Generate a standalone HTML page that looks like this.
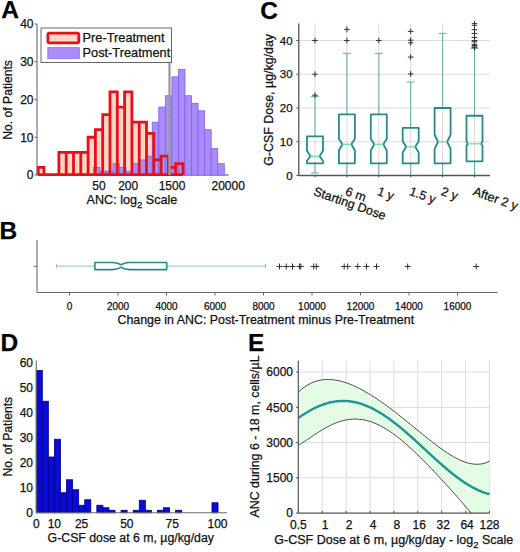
<!DOCTYPE html>
<html><head><meta charset="utf-8"><style>
html,body{margin:0;padding:0;background:#fff;}
svg{display:block;font-family:"Liberation Sans", sans-serif;}
text{stroke:#111;stroke-width:0.25px;}
</style></head><body>
<svg width="520" height="552" viewBox="0 0 520 552">
<rect width="520" height="552" fill="#fff"/>
<line x1="37.00" y1="175.00" x2="228.50" y2="175.00" stroke="#444" stroke-width="1.1" />
<rect x="38.20" y="167.45" width="5.80" height="7.55" fill="#fdd8c8" stroke="none" stroke-width="1" />
<rect x="58.90" y="152.35" width="7.30" height="22.65" fill="#fdd8c8" stroke="none" stroke-width="1" />
<rect x="66.20" y="152.35" width="7.30" height="22.65" fill="#fdd8c8" stroke="none" stroke-width="1" />
<rect x="73.50" y="152.35" width="7.30" height="22.65" fill="#fdd8c8" stroke="none" stroke-width="1" />
<rect x="80.80" y="152.35" width="7.30" height="22.65" fill="#fdd8c8" stroke="none" stroke-width="1" />
<rect x="88.10" y="137.25" width="7.30" height="37.75" fill="#fdd8c8" stroke="none" stroke-width="1" />
<rect x="95.40" y="129.70" width="7.30" height="45.30" fill="#fdd8c8" stroke="none" stroke-width="1" />
<rect x="102.70" y="114.60" width="7.30" height="60.40" fill="#fdd8c8" stroke="none" stroke-width="1" />
<rect x="110.00" y="91.95" width="7.30" height="83.05" fill="#fdd8c8" stroke="none" stroke-width="1" />
<rect x="117.30" y="107.05" width="7.30" height="67.95" fill="#fdd8c8" stroke="none" stroke-width="1" />
<rect x="124.60" y="91.95" width="7.30" height="83.05" fill="#fdd8c8" stroke="none" stroke-width="1" />
<rect x="131.90" y="122.15" width="7.30" height="52.85" fill="#fdd8c8" stroke="none" stroke-width="1" />
<rect x="139.20" y="122.15" width="7.30" height="52.85" fill="#fdd8c8" stroke="none" stroke-width="1" />
<rect x="146.50" y="133.47" width="7.30" height="41.53" fill="#fdd8c8" stroke="none" stroke-width="1" />
<rect x="153.80" y="159.90" width="7.30" height="15.10" fill="#fdd8c8" stroke="none" stroke-width="1" />
<rect x="161.10" y="156.12" width="7.30" height="18.88" fill="#fdd8c8" stroke="none" stroke-width="1" />
<rect x="168.40" y="167.45" width="7.30" height="7.55" fill="#fdd8c8" stroke="none" stroke-width="1" />
<rect x="175.70" y="163.68" width="7.30" height="11.32" fill="#fdd8c8" stroke="none" stroke-width="1" />
<rect x="93.30" y="167.45" width="6.55" height="7.55" fill="#a98cfa" stroke="#7f62ee" stroke-width="0.8" />
<rect x="99.85" y="171.22" width="6.55" height="3.78" fill="#a98cfa" stroke="#7f62ee" stroke-width="0.8" />
<rect x="106.40" y="171.22" width="6.55" height="3.78" fill="#a98cfa" stroke="#7f62ee" stroke-width="0.8" />
<rect x="112.95" y="163.68" width="6.55" height="11.32" fill="#a98cfa" stroke="#7f62ee" stroke-width="0.8" />
<rect x="119.50" y="167.45" width="6.55" height="7.55" fill="#a98cfa" stroke="#7f62ee" stroke-width="0.8" />
<rect x="126.05" y="171.22" width="6.55" height="3.78" fill="#a98cfa" stroke="#7f62ee" stroke-width="0.8" />
<rect x="132.60" y="163.68" width="6.55" height="11.32" fill="#a98cfa" stroke="#7f62ee" stroke-width="0.8" />
<rect x="139.15" y="159.90" width="6.55" height="15.10" fill="#a98cfa" stroke="#7f62ee" stroke-width="0.8" />
<rect x="145.70" y="156.12" width="6.55" height="18.88" fill="#a98cfa" stroke="#7f62ee" stroke-width="0.8" />
<rect x="152.25" y="122.15" width="6.55" height="52.85" fill="#a98cfa" stroke="#7f62ee" stroke-width="0.8" />
<rect x="158.80" y="107.05" width="6.55" height="67.95" fill="#a98cfa" stroke="#7f62ee" stroke-width="0.8" />
<rect x="165.35" y="95.73" width="6.55" height="79.27" fill="#a98cfa" stroke="#7f62ee" stroke-width="0.8" />
<rect x="171.90" y="76.85" width="6.55" height="98.15" fill="#a98cfa" stroke="#7f62ee" stroke-width="0.8" />
<rect x="178.45" y="69.30" width="6.55" height="105.70" fill="#a98cfa" stroke="#7f62ee" stroke-width="0.8" />
<rect x="185.00" y="95.73" width="6.55" height="79.27" fill="#a98cfa" stroke="#7f62ee" stroke-width="0.8" />
<rect x="191.55" y="103.28" width="6.55" height="71.72" fill="#a98cfa" stroke="#7f62ee" stroke-width="0.8" />
<rect x="198.10" y="110.83" width="6.55" height="64.17" fill="#a98cfa" stroke="#7f62ee" stroke-width="0.8" />
<rect x="204.65" y="129.70" width="6.55" height="45.30" fill="#a98cfa" stroke="#7f62ee" stroke-width="0.8" />
<rect x="211.20" y="148.57" width="6.55" height="26.43" fill="#a98cfa" stroke="#7f62ee" stroke-width="0.8" />
<rect x="217.75" y="163.68" width="6.55" height="11.32" fill="#a98cfa" stroke="#7f62ee" stroke-width="0.8" />
<path d="M38.20 175.00V167.45H44.00V175.00M58.90 175.00V152.35H66.20V175.00M66.20 175.00V152.35H73.50V175.00M73.50 175.00V152.35H80.80V175.00M80.80 175.00V152.35H88.10V175.00M88.10 175.00V137.25H95.40V175.00M95.40 175.00V129.70H102.70V175.00M102.70 175.00V114.60H110.00V175.00M110.00 175.00V91.95H117.30V175.00M117.30 175.00V107.05H124.60V175.00M124.60 175.00V91.95H131.90V175.00M131.90 175.00V122.15H139.20V175.00M139.20 175.00V122.15H146.50V175.00M146.50 175.00V133.47H153.80V175.00M153.80 175.00V159.90H161.10V175.00M161.10 175.00V156.12H168.40V175.00M168.40 175.00V167.45H175.70V175.00M175.70 175.00V163.68H183.00V175.00M38.2 174.70H183.00" fill="none" stroke="#e5101a" stroke-width="2.8" stroke-linejoin="miter"/>
<line x1="169.50" y1="62.50" x2="169.50" y2="175.00" stroke="#a4a4a4" stroke-width="2.2" />
<line x1="169.50" y1="62.50" x2="169.50" y2="175.00" stroke="#8a8a8a" stroke-width="1.4" stroke-dasharray="1 0.8"/>
<line x1="37.00" y1="24.00" x2="37.00" y2="175.00" stroke="#6a6a6a" stroke-width="1.1" />
<line x1="34.50" y1="175.00" x2="37.00" y2="175.00" stroke="#6a6a6a" stroke-width="1" />
<text x="33.50" y="179.30" font-size="12" text-anchor="end" font-weight="normal" fill="#111" >0</text>
<line x1="34.50" y1="137.25" x2="37.00" y2="137.25" stroke="#6a6a6a" stroke-width="1" />
<text x="33.50" y="141.55" font-size="12" text-anchor="end" font-weight="normal" fill="#111" >10</text>
<line x1="34.50" y1="99.50" x2="37.00" y2="99.50" stroke="#6a6a6a" stroke-width="1" />
<text x="33.50" y="103.80" font-size="12" text-anchor="end" font-weight="normal" fill="#111" >20</text>
<line x1="34.50" y1="61.75" x2="37.00" y2="61.75" stroke="#6a6a6a" stroke-width="1" />
<text x="33.50" y="66.05" font-size="12" text-anchor="end" font-weight="normal" fill="#111" >30</text>
<line x1="34.50" y1="24.00" x2="37.00" y2="24.00" stroke="#6a6a6a" stroke-width="1" />
<text x="33.50" y="28.30" font-size="12" text-anchor="end" font-weight="normal" fill="#111" >40</text>
<text x="99.00" y="190.40" font-size="12" text-anchor="middle" font-weight="normal" fill="#111" >50</text>
<text x="128.20" y="190.40" font-size="12" text-anchor="middle" font-weight="normal" fill="#111" >200</text>
<text x="172.00" y="190.40" font-size="12" text-anchor="middle" font-weight="normal" fill="#111" >1500</text>
<text x="228.20" y="190.40" font-size="12" text-anchor="middle" font-weight="normal" fill="#111" >20000</text>
<text x="86.6" y="204" font-size="12.6" fill="#111">ANC: log<tspan font-size="9.5" dy="3.8">2</tspan><tspan dy="-3.8"> Scale</tspan></text>
<text x="0.00" y="0.00" font-size="12.15" text-anchor="middle" font-weight="normal" fill="#111" transform="translate(12.4 99.9) rotate(-90)">No. of Patients</text>
<rect x="41.00" y="28.00" width="130.50" height="34.50" fill="#fff" stroke="#666" stroke-width="1" />
<rect x="47.90" y="33.10" width="30.90" height="9.70" fill="#fdd8c8" stroke="#e5101a" stroke-width="2.8" rx="1.5"/>
<rect x="47.80" y="47.60" width="31.70" height="11.00" fill="#a98cfa" stroke="#8f74f0" stroke-width="0.8" />
<text x="82.50" y="42.30" font-size="12.8" text-anchor="start" font-weight="normal" fill="#111" >Pre-Treatment</text>
<text x="82.50" y="57.20" font-size="12.8" text-anchor="start" font-weight="normal" fill="#111" >Post-Treatment</text>
<text x="1.30" y="18.00" font-size="24.5" text-anchor="start" font-weight="bold" fill="#000" >A</text>
<text x="-0.60" y="239.00" font-size="24.5" text-anchor="start" font-weight="bold" fill="#000" >B</text>
<line x1="37.00" y1="240.00" x2="37.00" y2="292.50" stroke="#6a6a6a" stroke-width="1.1" />
<line x1="37.00" y1="292.50" x2="497.70" y2="292.50" stroke="#6a6a6a" stroke-width="1.1" />
<line x1="33.50" y1="266.25" x2="37.00" y2="266.25" stroke="#6a6a6a" stroke-width="1" />
<line x1="69.50" y1="292.50" x2="69.50" y2="295.50" stroke="#6a6a6a" stroke-width="1" />
<text x="69.50" y="310.00" font-size="10" text-anchor="middle" font-weight="normal" fill="#111" >0</text>
<line x1="118.00" y1="292.50" x2="118.00" y2="295.50" stroke="#6a6a6a" stroke-width="1" />
<text x="118.00" y="310.00" font-size="10" text-anchor="middle" font-weight="normal" fill="#111" >2000</text>
<line x1="166.50" y1="292.50" x2="166.50" y2="295.50" stroke="#6a6a6a" stroke-width="1" />
<text x="166.50" y="310.00" font-size="10" text-anchor="middle" font-weight="normal" fill="#111" >4000</text>
<line x1="215.00" y1="292.50" x2="215.00" y2="295.50" stroke="#6a6a6a" stroke-width="1" />
<text x="215.00" y="310.00" font-size="10" text-anchor="middle" font-weight="normal" fill="#111" >6000</text>
<line x1="263.50" y1="292.50" x2="263.50" y2="295.50" stroke="#6a6a6a" stroke-width="1" />
<text x="263.50" y="310.00" font-size="10" text-anchor="middle" font-weight="normal" fill="#111" >8000</text>
<line x1="312.00" y1="292.50" x2="312.00" y2="295.50" stroke="#6a6a6a" stroke-width="1" />
<text x="312.00" y="310.00" font-size="10" text-anchor="middle" font-weight="normal" fill="#111" >10000</text>
<line x1="360.50" y1="292.50" x2="360.50" y2="295.50" stroke="#6a6a6a" stroke-width="1" />
<text x="360.50" y="310.00" font-size="10" text-anchor="middle" font-weight="normal" fill="#111" >12000</text>
<line x1="409.00" y1="292.50" x2="409.00" y2="295.50" stroke="#6a6a6a" stroke-width="1" />
<text x="409.00" y="310.00" font-size="10" text-anchor="middle" font-weight="normal" fill="#111" >14000</text>
<line x1="457.50" y1="292.50" x2="457.50" y2="295.50" stroke="#6a6a6a" stroke-width="1" />
<text x="457.50" y="310.00" font-size="10" text-anchor="middle" font-weight="normal" fill="#111" >16000</text>
<line x1="56.50" y1="266.10" x2="94.90" y2="266.10" stroke="#9fd0d0" stroke-width="1.1" />
<line x1="56.50" y1="264.20" x2="56.50" y2="268.20" stroke="#a0b8b8" stroke-width="1.1" />
<line x1="166.70" y1="266.10" x2="265.50" y2="266.10" stroke="#9fd0d0" stroke-width="1.1" />
<line x1="265.50" y1="264.20" x2="265.50" y2="268.20" stroke="#a0b8b8" stroke-width="1.1" />
<path d="M94.9 262.5H112.4Q117 262.5 121.1 264.75Q125 262.5 129.2 262.5H166.7V269.6H129.2Q125 269.6 121.1 267.35Q117 269.6 112.4 269.6H94.9Z" fill="none" stroke="#27898a" stroke-width="1.6" stroke-linejoin="round"/>
<line x1="121.10" y1="264.75" x2="121.10" y2="267.35" stroke="#6de39a" stroke-width="1.3" />
<path d="M276.50 266.50H282.50M279.50 263.50V269.50" stroke="#333" stroke-width="1" fill="none"/>
<path d="M283.25 266.50H289.25M286.25 263.50V269.50" stroke="#333" stroke-width="1" fill="none"/>
<path d="M289.50 266.50H295.50M292.50 263.50V269.50" stroke="#333" stroke-width="1" fill="none"/>
<path d="M296.50 266.50H302.50M299.50 263.50V269.50" stroke="#333" stroke-width="1" fill="none"/>
<path d="M297.80 266.50H303.80M300.80 263.50V269.50" stroke="#333" stroke-width="1" fill="none"/>
<path d="M310.75 266.50H316.75M313.75 263.50V269.50" stroke="#333" stroke-width="1" fill="none"/>
<path d="M313.25 266.50H319.25M316.25 263.50V269.50" stroke="#333" stroke-width="1" fill="none"/>
<path d="M341.20 266.50H347.20M344.20 263.50V269.50" stroke="#333" stroke-width="1" fill="none"/>
<path d="M344.70 266.50H350.70M347.70 263.50V269.50" stroke="#333" stroke-width="1" fill="none"/>
<path d="M354.70 266.50H360.70M357.70 263.50V269.50" stroke="#333" stroke-width="1" fill="none"/>
<path d="M363.50 266.50H369.50M366.50 263.50V269.50" stroke="#333" stroke-width="1" fill="none"/>
<path d="M373.50 266.50H379.50M376.50 263.50V269.50" stroke="#333" stroke-width="1" fill="none"/>
<path d="M404.70 266.50H410.70M407.70 263.50V269.50" stroke="#333" stroke-width="1" fill="none"/>
<path d="M473.20 266.50H479.20M476.20 263.50V269.50" stroke="#333" stroke-width="1" fill="none"/>
<text x="265.80" y="323.80" font-size="12.4" text-anchor="middle" font-weight="normal" fill="#111" >Change in ANC: Post-Treatment minus Pre-Treatment</text>
<text x="260.20" y="19.30" font-size="24.5" text-anchor="start" font-weight="bold" fill="#000" >C</text>
<line x1="298.75" y1="141.75" x2="490.00" y2="141.75" stroke="#dcdcdc" stroke-width="1" />
<line x1="298.75" y1="108.00" x2="490.00" y2="108.00" stroke="#dcdcdc" stroke-width="1" />
<line x1="298.75" y1="74.25" x2="490.00" y2="74.25" stroke="#dcdcdc" stroke-width="1" />
<line x1="298.75" y1="40.50" x2="490.00" y2="40.50" stroke="#dcdcdc" stroke-width="1" />
<line x1="315.00" y1="23.60" x2="315.00" y2="175.50" stroke="#dcdcdc" stroke-width="1" />
<line x1="346.90" y1="23.60" x2="346.90" y2="175.50" stroke="#dcdcdc" stroke-width="1" />
<line x1="378.80" y1="23.60" x2="378.80" y2="175.50" stroke="#dcdcdc" stroke-width="1" />
<line x1="410.70" y1="23.60" x2="410.70" y2="175.50" stroke="#dcdcdc" stroke-width="1" />
<line x1="442.60" y1="23.60" x2="442.60" y2="175.50" stroke="#dcdcdc" stroke-width="1" />
<line x1="474.50" y1="23.60" x2="474.50" y2="175.50" stroke="#dcdcdc" stroke-width="1" />
<line x1="315.00" y1="136.35" x2="315.00" y2="96.53" stroke="#5aa3a6" stroke-width="0.9" />
<line x1="315.00" y1="163.35" x2="315.00" y2="172.97" stroke="#5aa3a6" stroke-width="0.9" />
<line x1="311.00" y1="96.53" x2="319.00" y2="96.53" stroke="#5aa3a6" stroke-width="0.9" />
<line x1="311.00" y1="172.97" x2="319.00" y2="172.97" stroke="#5aa3a6" stroke-width="0.9" />
<path d="M307.00 136.35H323.00V150.86L319.50 156.26L323.00 160.75V163.35H307.00V160.75L310.50 156.26L307.00 150.86Z" fill="none" stroke="#27898a" stroke-width="1.8" stroke-linejoin="round"/>
<line x1="310.50" y1="156.26" x2="319.50" y2="156.26" stroke="#6de39a" stroke-width="1.3" />
<path d="M312.20 95.17H317.80M315.00 92.38V97.97" stroke="#333" stroke-width="1" fill="none"/>
<path d="M312.20 74.25H317.80M315.00 71.45V77.05" stroke="#333" stroke-width="1" fill="none"/>
<path d="M312.20 40.50H317.80M315.00 37.70V43.30" stroke="#333" stroke-width="1" fill="none"/>
<line x1="346.90" y1="114.41" x2="346.90" y2="53.32" stroke="#5aa3a6" stroke-width="0.9" />
<line x1="346.90" y1="163.35" x2="346.90" y2="175.50" stroke="#5aa3a6" stroke-width="0.9" />
<line x1="342.90" y1="53.32" x2="350.90" y2="53.32" stroke="#5aa3a6" stroke-width="0.9" />
<line x1="342.90" y1="175.50" x2="350.90" y2="175.50" stroke="#5aa3a6" stroke-width="0.9" />
<path d="M338.90 114.41H354.90V138.71L351.40 144.28L354.90 150.53V163.35H338.90V150.53L342.40 144.28L338.90 138.71Z" fill="none" stroke="#27898a" stroke-width="1.8" stroke-linejoin="round"/>
<line x1="342.40" y1="144.28" x2="351.40" y2="144.28" stroke="#6de39a" stroke-width="1.3" />
<path d="M344.10 40.50H349.70M346.90 37.70V43.30" stroke="#333" stroke-width="1" fill="none"/>
<path d="M344.10 29.36H349.70M346.90 26.56V32.16" stroke="#333" stroke-width="1" fill="none"/>
<line x1="378.80" y1="114.41" x2="378.80" y2="53.32" stroke="#5aa3a6" stroke-width="0.9" />
<line x1="378.80" y1="163.35" x2="378.80" y2="175.50" stroke="#5aa3a6" stroke-width="0.9" />
<line x1="374.80" y1="53.32" x2="382.80" y2="53.32" stroke="#5aa3a6" stroke-width="0.9" />
<line x1="374.80" y1="175.50" x2="382.80" y2="175.50" stroke="#5aa3a6" stroke-width="0.9" />
<path d="M370.80 114.41H386.80V138.71L383.30 144.28L386.80 150.53V163.35H370.80V150.53L374.30 144.28L370.80 138.71Z" fill="none" stroke="#27898a" stroke-width="1.8" stroke-linejoin="round"/>
<line x1="374.30" y1="144.28" x2="383.30" y2="144.28" stroke="#6de39a" stroke-width="1.3" />
<path d="M376.00 40.50H381.60M378.80 37.70V43.30" stroke="#333" stroke-width="1" fill="none"/>
<line x1="410.70" y1="127.91" x2="410.70" y2="82.01" stroke="#5aa3a6" stroke-width="0.9" />
<line x1="410.70" y1="163.35" x2="410.70" y2="175.50" stroke="#5aa3a6" stroke-width="0.9" />
<line x1="406.70" y1="82.01" x2="414.70" y2="82.01" stroke="#5aa3a6" stroke-width="0.9" />
<line x1="406.70" y1="175.50" x2="414.70" y2="175.50" stroke="#5aa3a6" stroke-width="0.9" />
<path d="M402.70 127.91H418.70V141.24L415.20 146.81L418.70 152.55V163.35H402.70V152.55L406.20 146.81L402.70 141.24Z" fill="none" stroke="#27898a" stroke-width="1.8" stroke-linejoin="round"/>
<line x1="406.20" y1="146.81" x2="415.20" y2="146.81" stroke="#6de39a" stroke-width="1.3" />
<path d="M407.90 73.91H413.50M410.70 71.11V76.71" stroke="#333" stroke-width="1" fill="none"/>
<path d="M407.90 57.04H413.50M410.70 54.24V59.84" stroke="#333" stroke-width="1" fill="none"/>
<path d="M407.90 42.86H413.50M410.70 40.06V45.66" stroke="#333" stroke-width="1" fill="none"/>
<path d="M407.90 40.16H413.50M410.70 37.36V42.96" stroke="#333" stroke-width="1" fill="none"/>
<path d="M407.90 31.39H413.50M410.70 28.59V34.19" stroke="#333" stroke-width="1" fill="none"/>
<line x1="442.60" y1="108.00" x2="442.60" y2="33.41" stroke="#5aa3a6" stroke-width="0.9" />
<line x1="442.60" y1="163.35" x2="442.60" y2="175.50" stroke="#5aa3a6" stroke-width="0.9" />
<line x1="438.60" y1="33.41" x2="446.60" y2="33.41" stroke="#5aa3a6" stroke-width="0.9" />
<line x1="438.60" y1="175.50" x2="446.60" y2="175.50" stroke="#5aa3a6" stroke-width="0.9" />
<path d="M434.60 108.00H450.60V135.00L447.10 141.75L450.60 148.84V163.35H434.60V148.84L438.10 141.75L434.60 135.00Z" fill="none" stroke="#27898a" stroke-width="1.8" stroke-linejoin="round"/>
<line x1="438.10" y1="141.75" x2="447.10" y2="141.75" stroke="#6de39a" stroke-width="1.3" />
<line x1="474.50" y1="115.76" x2="474.50" y2="48.26" stroke="#5aa3a6" stroke-width="0.9" />
<line x1="474.50" y1="161.32" x2="474.50" y2="175.50" stroke="#5aa3a6" stroke-width="0.9" />
<line x1="470.50" y1="48.26" x2="478.50" y2="48.26" stroke="#5aa3a6" stroke-width="0.9" />
<line x1="470.50" y1="175.50" x2="478.50" y2="175.50" stroke="#5aa3a6" stroke-width="0.9" />
<path d="M466.50 115.76H482.50V141.41L481.10 143.78L482.50 145.80V161.32H466.50V145.80L467.90 143.78L466.50 141.41Z" fill="none" stroke="#27898a" stroke-width="1.8" stroke-linejoin="round"/>
<line x1="467.90" y1="143.78" x2="481.10" y2="143.78" stroke="#6de39a" stroke-width="1.3" />
<path d="M471.70 23.62H477.30M474.50 20.82V26.43" stroke="#333" stroke-width="1" fill="none"/>
<path d="M471.70 25.31H477.30M474.50 22.51V28.11" stroke="#333" stroke-width="1" fill="none"/>
<path d="M471.70 29.70H477.30M474.50 26.90V32.50" stroke="#333" stroke-width="1" fill="none"/>
<path d="M471.70 33.41H477.30M474.50 30.61V36.21" stroke="#333" stroke-width="1" fill="none"/>
<path d="M471.70 37.46H477.30M474.50 34.66V40.26" stroke="#333" stroke-width="1" fill="none"/>
<path d="M471.70 40.50H477.30M474.50 37.70V43.30" stroke="#333" stroke-width="1" fill="none"/>
<path d="M471.70 41.85H477.30M474.50 39.05V44.65" stroke="#333" stroke-width="1" fill="none"/>
<path d="M471.70 44.38H477.30M474.50 41.58V47.18" stroke="#333" stroke-width="1" fill="none"/>
<path d="M471.70 45.56H477.30M474.50 42.76V48.36" stroke="#333" stroke-width="1" fill="none"/>
<path d="M471.70 46.91H477.30M474.50 44.11V49.71" stroke="#333" stroke-width="1" fill="none"/>
<path d="M471.70 47.76H477.30M474.50 44.96V50.56" stroke="#333" stroke-width="1" fill="none"/>
<line x1="298.75" y1="23.60" x2="298.75" y2="175.50" stroke="#555" stroke-width="1.3" />
<line x1="298.75" y1="175.50" x2="490.00" y2="175.50" stroke="#555" stroke-width="1.3" />
<line x1="296.30" y1="175.50" x2="298.75" y2="175.50" stroke="#555" stroke-width="1" />
<text x="292.60" y="179.60" font-size="11.5" text-anchor="end" font-weight="normal" fill="#111" >0</text>
<line x1="296.30" y1="141.75" x2="298.75" y2="141.75" stroke="#555" stroke-width="1" />
<text x="292.60" y="145.85" font-size="11.5" text-anchor="end" font-weight="normal" fill="#111" >10</text>
<line x1="296.30" y1="108.00" x2="298.75" y2="108.00" stroke="#555" stroke-width="1" />
<text x="292.60" y="112.10" font-size="11.5" text-anchor="end" font-weight="normal" fill="#111" >20</text>
<line x1="296.30" y1="74.25" x2="298.75" y2="74.25" stroke="#555" stroke-width="1" />
<text x="292.60" y="78.35" font-size="11.5" text-anchor="end" font-weight="normal" fill="#111" >30</text>
<line x1="296.30" y1="40.50" x2="298.75" y2="40.50" stroke="#555" stroke-width="1" />
<text x="292.60" y="44.60" font-size="11.5" text-anchor="end" font-weight="normal" fill="#111" >40</text>
<line x1="315.00" y1="175.50" x2="315.00" y2="177.30" stroke="#555" stroke-width="1" />
<line x1="346.90" y1="175.50" x2="346.90" y2="177.30" stroke="#555" stroke-width="1" />
<line x1="378.80" y1="175.50" x2="378.80" y2="177.30" stroke="#555" stroke-width="1" />
<line x1="410.70" y1="175.50" x2="410.70" y2="177.30" stroke="#555" stroke-width="1" />
<line x1="442.60" y1="175.50" x2="442.60" y2="177.30" stroke="#555" stroke-width="1" />
<line x1="474.50" y1="175.50" x2="474.50" y2="177.30" stroke="#555" stroke-width="1" />
<text x="0.00" y="0.00" font-size="12.4" text-anchor="middle" font-weight="normal" fill="#111" transform="translate(273.2 99.9) rotate(-90)">G-CSF Dose, µg/kg/day</text>
<text x="0.00" y="0.00" font-size="12.5" text-anchor="start" font-weight="normal" fill="#111" transform="translate(312.70 194.8) rotate(19.5)">Starting Dose</text>
<text x="0.00" y="0.00" font-size="12.5" text-anchor="start" font-weight="normal" fill="#111" transform="translate(344.60 194.8) rotate(19.5)">6 m</text>
<text x="0.00" y="0.00" font-size="12.5" text-anchor="start" font-weight="normal" fill="#111" transform="translate(376.50 194.8) rotate(19.5)">1 y</text>
<text x="0.00" y="0.00" font-size="12.5" text-anchor="start" font-weight="normal" fill="#111" transform="translate(408.40 194.8) rotate(19.5)">1.5 y</text>
<text x="0.00" y="0.00" font-size="12.5" text-anchor="start" font-weight="normal" fill="#111" transform="translate(440.30 194.8) rotate(19.5)">2 y</text>
<text x="0.00" y="0.00" font-size="12.5" text-anchor="start" font-weight="normal" fill="#111" transform="translate(472.20 194.8) rotate(19.5)">After 2 y</text>
<text x="0.40" y="350.50" font-size="24.5" text-anchor="start" font-weight="bold" fill="#000" >D</text>
<rect x="36.25" y="370.50" width="6.06" height="142.25" fill="#0a0adc" stroke="#000080" stroke-width="0.8" />
<rect x="42.31" y="401.25" width="6.06" height="111.50" fill="#0a0adc" stroke="#000080" stroke-width="0.8" />
<rect x="48.37" y="457.00" width="6.06" height="55.75" fill="#0a0adc" stroke="#000080" stroke-width="0.8" />
<rect x="54.43" y="439.25" width="6.06" height="73.50" fill="#0a0adc" stroke="#000080" stroke-width="0.8" />
<rect x="60.49" y="492.75" width="6.06" height="20.00" fill="#0a0adc" stroke="#000080" stroke-width="0.8" />
<rect x="66.55" y="479.75" width="6.06" height="33.00" fill="#0a0adc" stroke="#000080" stroke-width="0.8" />
<rect x="72.61" y="489.75" width="6.06" height="23.00" fill="#0a0adc" stroke="#000080" stroke-width="0.8" />
<rect x="78.67" y="505.25" width="6.06" height="7.50" fill="#0a0adc" stroke="#000080" stroke-width="0.8" />
<rect x="84.73" y="499.75" width="6.06" height="13.00" fill="#0a0adc" stroke="#000080" stroke-width="0.8" />
<rect x="96.85" y="505.25" width="6.06" height="7.50" fill="#0a0adc" stroke="#000080" stroke-width="0.8" />
<rect x="102.91" y="507.75" width="6.06" height="5.00" fill="#0a0adc" stroke="#000080" stroke-width="0.8" />
<rect x="108.97" y="510.25" width="6.06" height="2.50" fill="#0a0adc" stroke="#000080" stroke-width="0.8" />
<rect x="121.09" y="510.25" width="6.06" height="2.50" fill="#0a0adc" stroke="#000080" stroke-width="0.8" />
<rect x="133.21" y="510.25" width="6.06" height="2.50" fill="#0a0adc" stroke="#000080" stroke-width="0.8" />
<rect x="139.27" y="500.25" width="6.06" height="12.50" fill="#0a0adc" stroke="#000080" stroke-width="0.8" />
<rect x="145.33" y="510.25" width="6.06" height="2.50" fill="#0a0adc" stroke="#000080" stroke-width="0.8" />
<rect x="157.45" y="510.25" width="6.06" height="2.50" fill="#0a0adc" stroke="#000080" stroke-width="0.8" />
<rect x="163.51" y="507.75" width="6.06" height="5.00" fill="#0a0adc" stroke="#000080" stroke-width="0.8" />
<rect x="175.63" y="510.25" width="6.06" height="2.50" fill="#0a0adc" stroke="#000080" stroke-width="0.8" />
<rect x="211.99" y="502.75" width="6.06" height="10.00" fill="#0a0adc" stroke="#000080" stroke-width="0.8" />
<line x1="36.25" y1="360.50" x2="36.25" y2="512.75" stroke="#6a6a6a" stroke-width="1.1" />
<line x1="36.25" y1="512.75" x2="227.00" y2="512.75" stroke="#6a6a6a" stroke-width="1.1" />
<text x="33.00" y="517.05" font-size="12" text-anchor="end" font-weight="normal" fill="#111" >0</text>
<text x="33.00" y="492.05" font-size="12" text-anchor="end" font-weight="normal" fill="#111" >10</text>
<text x="33.00" y="467.05" font-size="12" text-anchor="end" font-weight="normal" fill="#111" >20</text>
<text x="33.00" y="442.05" font-size="12" text-anchor="end" font-weight="normal" fill="#111" >30</text>
<text x="33.00" y="417.05" font-size="12" text-anchor="end" font-weight="normal" fill="#111" >40</text>
<text x="33.00" y="392.05" font-size="12" text-anchor="end" font-weight="normal" fill="#111" >50</text>
<text x="33.00" y="367.05" font-size="12" text-anchor="end" font-weight="normal" fill="#111" >60</text>
<text x="36.25" y="527.60" font-size="12" text-anchor="middle" font-weight="normal" fill="#111" >0</text>
<text x="54.38" y="527.60" font-size="12" text-anchor="middle" font-weight="normal" fill="#111" >10</text>
<text x="81.56" y="527.60" font-size="12" text-anchor="middle" font-weight="normal" fill="#111" >25</text>
<text x="126.88" y="527.60" font-size="12" text-anchor="middle" font-weight="normal" fill="#111" >50</text>
<text x="172.19" y="527.60" font-size="12" text-anchor="middle" font-weight="normal" fill="#111" >75</text>
<text x="217.50" y="527.60" font-size="12" text-anchor="middle" font-weight="normal" fill="#111" >100</text>
<text x="47.60" y="541.50" font-size="12.3" text-anchor="start" font-weight="normal" fill="#111" >G-CSF dose at 6 m, µg/kg/day</text>
<text x="0.00" y="0.00" font-size="12.15" text-anchor="middle" font-weight="normal" fill="#111" transform="translate(12.4 436.7) rotate(-90)">No. of Patients</text>
<text x="248.00" y="350.50" font-size="24.5" text-anchor="start" font-weight="bold" fill="#000" >E</text>
<line x1="298.30" y1="477.85" x2="489.50" y2="477.85" stroke="#dcdcdc" stroke-width="1" />
<line x1="298.30" y1="442.60" x2="489.50" y2="442.60" stroke="#dcdcdc" stroke-width="1" />
<line x1="298.30" y1="407.35" x2="489.50" y2="407.35" stroke="#dcdcdc" stroke-width="1" />
<line x1="298.30" y1="372.10" x2="489.50" y2="372.10" stroke="#dcdcdc" stroke-width="1" />
<line x1="322.20" y1="360.50" x2="322.20" y2="513.10" stroke="#dcdcdc" stroke-width="1" />
<line x1="346.10" y1="360.50" x2="346.10" y2="513.10" stroke="#dcdcdc" stroke-width="1" />
<line x1="370.00" y1="360.50" x2="370.00" y2="513.10" stroke="#dcdcdc" stroke-width="1" />
<line x1="393.90" y1="360.50" x2="393.90" y2="513.10" stroke="#dcdcdc" stroke-width="1" />
<line x1="417.80" y1="360.50" x2="417.80" y2="513.10" stroke="#dcdcdc" stroke-width="1" />
<line x1="441.70" y1="360.50" x2="441.70" y2="513.10" stroke="#dcdcdc" stroke-width="1" />
<line x1="465.60" y1="360.50" x2="465.60" y2="513.10" stroke="#dcdcdc" stroke-width="1" />
<line x1="489.50" y1="360.50" x2="489.50" y2="513.10" stroke="#dcdcdc" stroke-width="1" />
<path d="M298.50 391.99L299.99 390.61L301.48 389.33L302.98 388.14L304.47 387.03L305.96 386.02L307.45 385.09L308.95 384.24L310.44 383.46L311.93 382.77L313.42 382.15L314.91 381.60L316.41 381.11L317.90 380.70L319.39 380.35L320.88 380.06L322.38 379.83L323.87 379.65L325.36 379.54L326.85 379.47L328.34 379.46L329.84 379.50L331.33 379.59L332.82 379.73L334.31 379.91L335.80 380.13L337.30 380.40L338.79 380.71L340.28 381.06L341.77 381.44L343.27 381.86L344.76 382.32L346.25 382.81L347.74 383.34L349.23 383.90L350.73 384.48L352.22 385.10L353.71 385.75L355.20 386.43L356.70 387.13L358.19 387.86L359.68 388.61L361.17 389.39L362.66 390.19L364.16 391.01L365.65 391.86L367.14 392.73L368.63 393.62L370.12 394.53L371.62 395.45L373.11 396.40L374.60 397.37L376.09 398.35L377.59 399.34L379.08 400.36L380.57 401.39L382.06 402.43L383.55 403.49L385.05 404.57L386.54 405.65L388.03 406.75L389.52 407.86L391.02 408.98L392.51 410.12L394.00 411.26L395.49 412.41L396.98 413.58L398.48 414.75L399.97 415.93L401.46 417.11L402.95 418.31L404.45 419.50L405.94 420.71L407.43 421.92L408.92 423.13L410.41 424.35L411.91 425.57L413.40 426.79L414.89 428.01L416.38 429.23L417.88 430.46L419.37 431.68L420.86 432.90L422.35 434.11L423.84 435.32L425.34 436.53L426.83 437.73L428.32 438.92L429.81 440.10L431.30 441.28L432.80 442.44L434.29 443.59L435.78 444.73L437.27 445.86L438.77 446.96L440.26 448.05L441.75 449.13L443.24 450.18L444.73 451.21L446.23 452.21L447.72 453.19L449.21 454.14L450.70 455.07L452.20 455.96L453.69 456.82L455.18 457.65L456.67 458.43L458.16 459.18L459.66 459.89L461.15 460.56L462.64 461.17L464.13 461.74L465.62 462.26L467.12 462.73L468.61 463.14L470.10 463.49L471.59 463.78L473.09 464.00L474.58 464.16L476.07 464.24L477.56 464.25L479.05 464.19L480.55 464.04L482.04 463.81L483.53 463.49L485.02 463.09L486.52 462.58L488.01 461.98L489.50 461.27L489.5 513.1L471.50 513.10L470.01 511.98L468.52 510.15L467.03 508.33L465.53 506.54L464.04 504.77L462.55 503.01L461.06 501.27L459.57 499.55L458.08 497.83L456.59 496.13L455.09 494.44L453.60 492.76L452.11 491.09L450.62 489.43L449.13 487.78L447.64 486.14L446.15 484.50L444.66 482.87L443.16 481.25L441.67 479.64L440.18 478.03L438.69 476.43L437.20 474.84L435.71 473.26L434.22 471.68L432.72 470.11L431.23 468.55L429.74 467.00L428.25 465.46L426.76 463.93L425.27 462.41L423.78 460.90L422.28 459.40L420.79 457.92L419.30 456.44L417.81 454.98L416.32 453.54L414.83 452.11L413.34 450.70L411.84 449.31L410.35 447.93L408.86 446.58L407.37 445.24L405.88 443.93L404.39 442.64L402.90 441.37L401.41 440.13L399.91 438.91L398.42 437.72L396.93 436.56L395.44 435.42L393.95 434.32L392.46 433.24L390.97 432.20L389.47 431.19L387.98 430.22L386.49 429.28L385.00 428.38L383.51 427.51L382.02 426.68L380.53 425.89L379.03 425.14L377.54 424.43L376.05 423.76L374.56 423.14L373.07 422.55L371.58 422.01L370.09 421.52L368.59 421.07L367.10 420.66L365.61 420.30L364.12 419.99L362.63 419.72L361.14 419.50L359.65 419.33L358.16 419.21L356.66 419.13L355.17 419.11L353.68 419.13L352.19 419.19L350.70 419.31L349.21 419.47L347.72 419.68L346.22 419.94L344.73 420.25L343.24 420.60L341.75 420.99L340.26 421.43L338.77 421.91L337.28 422.44L335.78 423.01L334.29 423.62L332.80 424.26L331.31 424.95L329.82 425.67L328.33 426.43L326.84 427.22L325.34 428.04L323.85 428.89L322.36 429.77L320.87 430.67L319.38 431.60L317.89 432.54L316.40 433.51L314.91 434.48L313.41 435.48L311.92 436.48L310.43 437.48L308.94 438.49L307.45 439.50L305.96 440.50L304.47 441.50L302.97 442.48L301.48 443.45L299.99 444.40L298.50 445.32Z" fill="#e4fbe6" stroke="none"/>
<path d="M298.50 391.99L299.99 390.61L301.48 389.33L302.98 388.14L304.47 387.03L305.96 386.02L307.45 385.09L308.95 384.24L310.44 383.46L311.93 382.77L313.42 382.15L314.91 381.60L316.41 381.11L317.90 380.70L319.39 380.35L320.88 380.06L322.38 379.83L323.87 379.65L325.36 379.54L326.85 379.47L328.34 379.46L329.84 379.50L331.33 379.59L332.82 379.73L334.31 379.91L335.80 380.13L337.30 380.40L338.79 380.71L340.28 381.06L341.77 381.44L343.27 381.86L344.76 382.32L346.25 382.81L347.74 383.34L349.23 383.90L350.73 384.48L352.22 385.10L353.71 385.75L355.20 386.43L356.70 387.13L358.19 387.86L359.68 388.61L361.17 389.39L362.66 390.19L364.16 391.01L365.65 391.86L367.14 392.73L368.63 393.62L370.12 394.53L371.62 395.45L373.11 396.40L374.60 397.37L376.09 398.35L377.59 399.34L379.08 400.36L380.57 401.39L382.06 402.43L383.55 403.49L385.05 404.57L386.54 405.65L388.03 406.75L389.52 407.86L391.02 408.98L392.51 410.12L394.00 411.26L395.49 412.41L396.98 413.58L398.48 414.75L399.97 415.93L401.46 417.11L402.95 418.31L404.45 419.50L405.94 420.71L407.43 421.92L408.92 423.13L410.41 424.35L411.91 425.57L413.40 426.79L414.89 428.01L416.38 429.23L417.88 430.46L419.37 431.68L420.86 432.90L422.35 434.11L423.84 435.32L425.34 436.53L426.83 437.73L428.32 438.92L429.81 440.10L431.30 441.28L432.80 442.44L434.29 443.59L435.78 444.73L437.27 445.86L438.77 446.96L440.26 448.05L441.75 449.13L443.24 450.18L444.73 451.21L446.23 452.21L447.72 453.19L449.21 454.14L450.70 455.07L452.20 455.96L453.69 456.82L455.18 457.65L456.67 458.43L458.16 459.18L459.66 459.89L461.15 460.56L462.64 461.17L464.13 461.74L465.62 462.26L467.12 462.73L468.61 463.14L470.10 463.49L471.59 463.78L473.09 464.00L474.58 464.16L476.07 464.24L477.56 464.25L479.05 464.19L480.55 464.04L482.04 463.81L483.53 463.49L485.02 463.09L486.52 462.58L488.01 461.98L489.50 461.27" fill="none" stroke="#333" stroke-width="0.9"/>
<path d="M298.50 445.32L299.99 444.40L301.48 443.45L302.97 442.48L304.47 441.50L305.96 440.50L307.45 439.50L308.94 438.49L310.43 437.48L311.92 436.48L313.41 435.48L314.91 434.48L316.40 433.51L317.89 432.54L319.38 431.60L320.87 430.67L322.36 429.77L323.85 428.89L325.34 428.04L326.84 427.22L328.33 426.43L329.82 425.67L331.31 424.95L332.80 424.26L334.29 423.62L335.78 423.01L337.28 422.44L338.77 421.91L340.26 421.43L341.75 420.99L343.24 420.60L344.73 420.25L346.22 419.94L347.72 419.68L349.21 419.47L350.70 419.31L352.19 419.19L353.68 419.13L355.17 419.11L356.66 419.13L358.16 419.21L359.65 419.33L361.14 419.50L362.63 419.72L364.12 419.99L365.61 420.30L367.10 420.66L368.59 421.07L370.09 421.52L371.58 422.01L373.07 422.55L374.56 423.14L376.05 423.76L377.54 424.43L379.03 425.14L380.53 425.89L382.02 426.68L383.51 427.51L385.00 428.38L386.49 429.28L387.98 430.22L389.47 431.19L390.97 432.20L392.46 433.24L393.95 434.32L395.44 435.42L396.93 436.56L398.42 437.72L399.91 438.91L401.41 440.13L402.90 441.37L404.39 442.64L405.88 443.93L407.37 445.24L408.86 446.58L410.35 447.93L411.84 449.31L413.34 450.70L414.83 452.11L416.32 453.54L417.81 454.98L419.30 456.44L420.79 457.92L422.28 459.40L423.78 460.90L425.27 462.41L426.76 463.93L428.25 465.46L429.74 467.00L431.23 468.55L432.72 470.11L434.22 471.68L435.71 473.26L437.20 474.84L438.69 476.43L440.18 478.03L441.67 479.64L443.16 481.25L444.66 482.87L446.15 484.50L447.64 486.14L449.13 487.78L450.62 489.43L452.11 491.09L453.60 492.76L455.09 494.44L456.59 496.13L458.08 497.83L459.57 499.55L461.06 501.27L462.55 503.01L464.04 504.77L465.53 506.54L467.03 508.33L468.52 510.15L470.01 511.98L471.50 513.10" fill="none" stroke="#333" stroke-width="0.9"/>
<path d="M298.50 417.92L299.99 416.87L301.48 415.85L302.98 414.86L304.47 413.89L305.96 412.95L307.45 412.04L308.95 411.17L310.44 410.32L311.93 409.51L313.42 408.73L314.91 407.98L316.41 407.27L317.90 406.59L319.39 405.95L320.88 405.34L322.38 404.78L323.87 404.25L325.36 403.76L326.85 403.30L328.34 402.89L329.84 402.51L331.33 402.18L332.82 401.88L334.31 401.63L335.80 401.41L337.30 401.24L338.79 401.10L340.28 401.01L341.77 400.96L343.27 400.95L344.76 400.97L346.25 401.04L347.74 401.15L349.23 401.30L350.73 401.49L352.22 401.72L353.71 401.98L355.20 402.29L356.70 402.64L358.19 403.02L359.68 403.44L361.17 403.90L362.66 404.40L364.16 404.93L365.65 405.51L367.14 406.11L368.63 406.75L370.12 407.43L371.62 408.14L373.11 408.89L374.60 409.66L376.09 410.47L377.59 411.31L379.08 412.19L380.57 413.09L382.06 414.02L383.55 414.98L385.05 415.97L386.54 416.98L388.03 418.02L389.52 419.09L391.02 420.18L392.51 421.29L394.00 422.43L395.49 423.59L396.98 424.77L398.48 425.97L399.97 427.18L401.46 428.42L402.95 429.67L404.45 430.94L405.94 432.22L407.43 433.52L408.92 434.83L410.41 436.15L411.91 437.48L413.40 438.83L414.89 440.18L416.38 441.53L417.88 442.90L419.37 444.27L420.86 445.64L422.35 447.02L423.84 448.40L425.34 449.78L426.83 451.16L428.32 452.53L429.81 453.91L431.30 455.28L432.80 456.65L434.29 458.01L435.78 459.36L437.27 460.71L438.77 462.04L440.26 463.37L441.75 464.68L443.24 465.98L444.73 467.27L446.23 468.54L447.72 469.80L449.21 471.04L450.70 472.26L452.20 473.46L453.69 474.64L455.18 475.80L456.67 476.94L458.16 478.05L459.66 479.14L461.15 480.20L462.64 481.24L464.13 482.25L465.62 483.22L467.12 484.17L468.61 485.09L470.10 485.98L471.59 486.83L473.09 487.65L474.58 488.43L476.07 489.18L477.56 489.89L479.05 490.57L480.55 491.20L482.04 491.80L483.53 492.35L485.02 492.87L486.52 493.34L488.01 493.78L489.50 494.16" fill="none" stroke="#1f9595" stroke-width="2.4"/>
<line x1="298.30" y1="360.50" x2="298.30" y2="513.10" stroke="#555" stroke-width="1.2" />
<line x1="298.30" y1="513.10" x2="489.50" y2="513.10" stroke="#555" stroke-width="1.2" />
<text x="293.00" y="517.40" font-size="12" text-anchor="end" font-weight="normal" fill="#111" >0</text>
<line x1="296.00" y1="513.10" x2="298.30" y2="513.10" stroke="#555" stroke-width="1" />
<text x="293.00" y="482.15" font-size="12" text-anchor="end" font-weight="normal" fill="#111" >1500</text>
<line x1="296.00" y1="477.85" x2="298.30" y2="477.85" stroke="#555" stroke-width="1" />
<text x="293.00" y="446.90" font-size="12" text-anchor="end" font-weight="normal" fill="#111" >3000</text>
<line x1="296.00" y1="442.60" x2="298.30" y2="442.60" stroke="#555" stroke-width="1" />
<text x="293.00" y="411.65" font-size="12" text-anchor="end" font-weight="normal" fill="#111" >4500</text>
<line x1="296.00" y1="407.35" x2="298.30" y2="407.35" stroke="#555" stroke-width="1" />
<text x="293.00" y="376.40" font-size="12" text-anchor="end" font-weight="normal" fill="#111" >6000</text>
<line x1="296.00" y1="372.10" x2="298.30" y2="372.10" stroke="#555" stroke-width="1" />
<text x="298.30" y="529.20" font-size="12" text-anchor="middle" font-weight="normal" fill="#111" >0.5</text>
<line x1="298.30" y1="513.10" x2="298.30" y2="510.80" stroke="#555" stroke-width="1" />
<text x="325.20" y="529.20" font-size="12" text-anchor="middle" font-weight="normal" fill="#111" >1</text>
<line x1="322.20" y1="513.10" x2="322.20" y2="510.80" stroke="#555" stroke-width="1" />
<text x="349.10" y="529.20" font-size="12" text-anchor="middle" font-weight="normal" fill="#111" >2</text>
<line x1="346.10" y1="513.10" x2="346.10" y2="510.80" stroke="#555" stroke-width="1" />
<text x="373.00" y="529.20" font-size="12" text-anchor="middle" font-weight="normal" fill="#111" >4</text>
<line x1="370.00" y1="513.10" x2="370.00" y2="510.80" stroke="#555" stroke-width="1" />
<text x="396.90" y="529.20" font-size="12" text-anchor="middle" font-weight="normal" fill="#111" >8</text>
<line x1="393.90" y1="513.10" x2="393.90" y2="510.80" stroke="#555" stroke-width="1" />
<text x="419.30" y="529.20" font-size="12" text-anchor="middle" font-weight="normal" fill="#111" >16</text>
<line x1="417.80" y1="513.10" x2="417.80" y2="510.80" stroke="#555" stroke-width="1" />
<text x="443.20" y="529.20" font-size="12" text-anchor="middle" font-weight="normal" fill="#111" >32</text>
<line x1="441.70" y1="513.10" x2="441.70" y2="510.80" stroke="#555" stroke-width="1" />
<text x="467.10" y="529.20" font-size="12" text-anchor="middle" font-weight="normal" fill="#111" >64</text>
<line x1="465.60" y1="513.10" x2="465.60" y2="510.80" stroke="#555" stroke-width="1" />
<text x="489.50" y="529.20" font-size="12" text-anchor="middle" font-weight="normal" fill="#111" >128</text>
<line x1="489.50" y1="513.10" x2="489.50" y2="510.80" stroke="#555" stroke-width="1" />
<text x="274.3" y="543.8" font-size="12.5" fill="#111">G-CSF Dose at 6 m, µg/kg/day - log<tspan font-size="9.5" dy="4">2</tspan><tspan dy="-4"> Scale</tspan></text>
<text x="0.00" y="0.00" font-size="12.4" text-anchor="middle" font-weight="normal" fill="#111" transform="translate(258.7 436.5) rotate(-90)">ANC during 6 - 18 m, cells/µL</text>
</svg></body></html>
